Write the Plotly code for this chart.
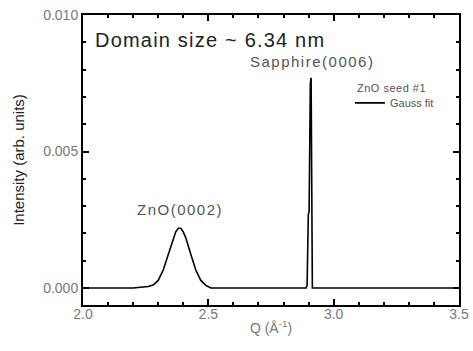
import plotly.graph_objects as go

q = [2.00, 2.20, 2.24, 2.26, 2.28, 2.30, 2.32, 2.34, 2.36, 2.37, 2.38, 2.39,
     2.40, 2.41, 2.43, 2.45, 2.47, 2.49, 2.51, 2.70, 2.890, 2.894, 2.895,
     2.898, 2.899, 2.902, 2.903, 2.906, 2.907, 2.910, 2.912, 2.915, 3.20, 3.50]
intensity = [0.0, 0.0, 0.00004, 0.00006, 0.00011, 0.00028, 0.00066, 0.00124,
             0.00184, 0.00206, 0.00219, 0.00219, 0.00206, 0.00184, 0.00124,
             0.00066, 0.00028, 0.00010, 0.0, 0.0, 0.0, 0.0001, 0.0010,
             0.0011, 0.0027, 0.0028, 0.0045, 0.0046, 0.0075, 0.0077, 0.0002,
             0.0, 0.0, 0.0]

x_ticks = [2.0, 2.5, 3.0, 3.5]
x_ticklabels = ["2.0", "2.5", "3.0", "3.5"]
y_ticks = [0.000, 0.005, 0.010]
y_ticklabels = ["0.000", "0.005", "0.010"]

FONT = "Arial, Liberation Sans, sans-serif"
GRAY = "#7a7a7a"


def spaced(text, px):
    return '<span style="letter-spacing:%spx">%s</span>' % (px, text)


fig = go.Figure()
fig.add_trace(go.Scatter(x=q, y=intensity, mode="lines", name="Gauss fit",
                         line=dict(color="black", width=1.6)))

fig.update_xaxes(range=[2.0, 3.5], tickvals=x_ticks, ticktext=x_ticklabels,
                 showline=True, linecolor="black", linewidth=2, mirror="ticks",
                 ticks="inside", ticklen=6, tickwidth=2, tickcolor="black",
                 minor=dict(dtick=0.1, ticks="inside", ticklen=3),
                 showgrid=False, zeroline=False, automargin=False,
                 ticklabelstandoff=-5,
                 tickfont=dict(family=FONT, size=14, color=GRAY),
                 title=dict(text="Q (Å<sup>-1</sup>)", standoff=2,
                            font=dict(family=FONT, size=14, color=GRAY)))
fig.update_yaxes(range=[-0.00062, 0.010], tickvals=y_ticks, ticktext=y_ticklabels,
                 showline=True, linecolor="black", linewidth=2, mirror="ticks",
                 ticks="inside", ticklen=6, tickwidth=2, tickcolor="black",
                 minor=dict(dtick=0.001, ticks="inside", ticklen=3),
                 showgrid=False, zeroline=False, automargin=False,
                 tickfont=dict(family=FONT, size=14, color=GRAY),
                 title=dict(text="Intensity (arb. units)",
                            font=dict(family=FONT, size=15, color="#222")))

fig.add_annotation(x=2.04, y=0.00908, xref="x", yref="y", xanchor="left",
                   yanchor="middle", text=spaced("Domain size ~ 6.34 nm", 1.2),
                   showarrow=False, font=dict(family=FONT, size=20, color="#222"))
fig.add_annotation(x=2.912, y=0.00828, xref="x", yref="y", xanchor="center",
                   yanchor="middle", text=spaced("Sapphire(0006)", 1.5),
                   showarrow=False, font=dict(family=FONT, size=15, color="#555"))
fig.add_annotation(x=2.387, y=0.00286, xref="x", yref="y", xanchor="center",
                   yanchor="middle", text=spaced("ZnO(0002)", 1.5),
                   showarrow=False, font=dict(family=FONT, size=15, color="#555"))
fig.add_annotation(x=3.085, y=0.00733, xref="x", yref="y", xanchor="left",
                   yanchor="middle", text=spaced("ZnO seed #1", 0.5),
                   showarrow=False, font=dict(family=FONT, size=11, color="#555"))

fig.update_layout(
    width=473, height=351,
    margin=dict(l=83, r=14, t=15, b=46),
    paper_bgcolor="white", plot_bgcolor="white",
    showlegend=True,
    legend=dict(x=0.71, y=0.747, xanchor="left", yanchor="top",
                bgcolor="rgba(0,0,0,0)", itemwidth=30,
                font=dict(family=FONT, size=11, color="#555")),
)

fig.write_html("out.html")
